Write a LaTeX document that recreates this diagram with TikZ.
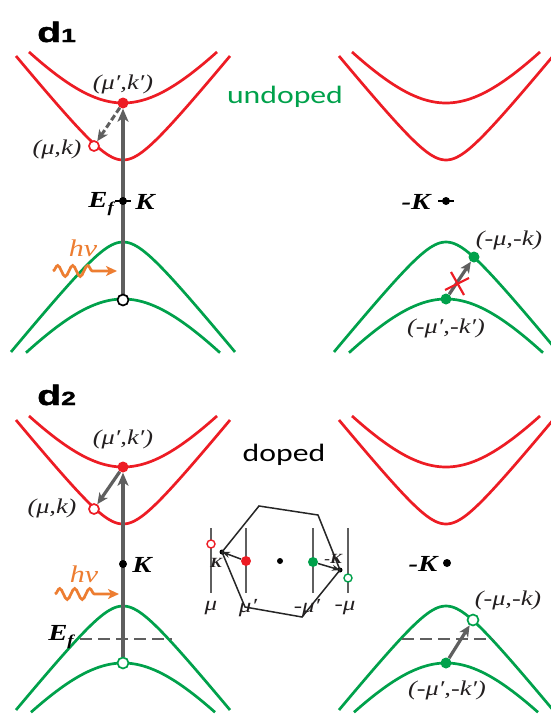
\documentclass[tikz,border=0pt]{standalone}
\usepackage{fontspec}
\setmainfont{Liberation Serif}[FakeStretch=1.25]
\newfontfamily\sansf{Liberation Sans}[FakeStretch=1.4,FakeBold=1.5]
\newfontfamily\calf{Carlito}[FakeStretch=1.27]
\usetikzlibrary{arrows.meta,decorations.pathmorphing}
\definecolor{bred}{RGB}{237,28,36}
\definecolor{bgreen}{RGB}{0,161,75}
\definecolor{bgray}{RGB}{95,95,95}
\definecolor{borange}{RGB}{237,125,49}
\definecolor{txt}{RGB}{35,31,32}
\pgfdeclarelayer{bglayer}
\pgfdeclarelayer{bandlayer}
\pgfdeclarelayer{arrowlayer}
\pgfsetlayers{bglayer,bandlayer,arrowlayer,main}
\newcommand\drawbands[4]{%
  \draw[redband] plot[domain=-94:94,samples=61,smooth] ({#1+\x},{#2-pb(\x)});
  \draw[redband] plot[domain=-107:107,samples=81,smooth] ({#1+\x},{#2-vb(\x)});
  \draw[greenband] plot[domain=-#3:#3,samples=81,smooth] ({#1+\x},{#2+vb(\x)});
  \draw[greenband] plot[domain=-#4:#4,samples=61,smooth] ({#1+\x},{#2+pb(\x)});
}
\begin{document}
\begin{tikzpicture}[x=1pt,y=-1pt,
  declare function={pb(\t)=98+11.75*(sqrt(64+(\t/10)^2)-8); vb(\t)=41+12.25*(sqrt(6.25+(\t/10)^2)-2.5);},
  redband/.style={draw=bred,line width=2.7pt},
  greenband/.style={draw=bgreen,line width=2.7pt},
  rdot/.style={circle,fill=bred,inner sep=0pt,minimum size=11pt},
  gdot/.style={circle,fill=bgreen,inner sep=0pt,minimum size=11pt},
  ocred/.style={circle,draw=bred,fill=white,line width=1.7pt,inner sep=0pt,minimum size=10pt},
  ocgrn/.style={circle,draw=bgreen,fill=white,line width=1.7pt,inner sep=0pt,minimum size=11pt},
  ocblk/.style={circle,draw=black,fill=white,line width=1.7pt,inner sep=0pt,minimum size=11pt},
  kdot/.style={circle,fill=black,inner sep=0pt,minimum size=8pt},
  tick/.style={draw=black,line width=1.6pt},
  garrow/.style={draw=bgray,line width=3.2pt,-{Stealth[length=13pt,width=11pt,inset=3.5pt]}},
  dashline/.style={draw=bgray,line width=2.8pt,dash pattern=on 12pt off 6pt},
  redx/.style={draw=bred,line width=2.2pt},
  lab/.style={font=\fontsize{21}{24}\selectfont\itshape,text=txt,inner sep=0pt},
  blab/.style={font=\fontsize{23}{26}\selectfont\bfseries\itshape,text=black,inner sep=0pt},
  hvlab/.style={font=\fontsize{24}{26}\selectfont\itshape,text=borange,inner sep=0pt},
  wave/.style={draw=borange,line width=2.7pt,decorate,
    decoration={snake,amplitude=5.5pt,segment length=15pt,post length=24pt},
    -{Stealth[length=11pt,width=10pt,inset=3pt]}},
  panel/.style={font=\sansf\bfseries\fontsize{28}{30}\selectfont,inner sep=0pt,anchor=base west},
  note/.style={font=\calf\fontsize{25}{28}\selectfont,inner sep=0pt},
  hexline/.style={draw=black!85,line width=1.5pt},
  vline/.style={draw=bgray,line width=2.2pt},
  iarrow/.style={draw=black!85,line width=1.5pt,-{Stealth[length=8pt,width=6pt]}},
  ilab/.style={font=\fontsize{20}{22}\selectfont\itshape,text=txt,inner sep=0pt},
  iklab/.style={font=\fontsize{14}{15}\selectfont\bfseries\itshape,text=txt,inner sep=0pt},
  sdot/.style={circle,fill=black,inner sep=0pt,minimum size=5pt}
]
\useasboundingbox (0,0) rectangle (550,715);
\begin{pgfonlayer}{bglayer}
\fill[white] (0,0) rectangle (550,715);
\end{pgfonlayer}

\begin{pgfonlayer}{bandlayer}
\drawbands{123}{201}{112}{97}
\drawbands{446}{201}{112}{97}
\drawbands{123}{565}{107}{92}
\drawbands{446}{565}{107}{92}
\end{pgfonlayer}

% ---------------- d1 ----------------
\node[panel] (d1) at (37,42) {d\fontsize{19}{20}\selectfont 1};
\node[note,text=bgreen] (und) at (285,97) {undoped};
\node[rdot] (rd1) at (123,103) {};
\node[ocred] (or1) at (94,146) {};
\node[ocblk] (ob1) at (123,300) {};
\node[kdot] (kd1) at (123,201) {};
\node[lab] (l1a) at (123,84) {(μ′,k′)};
\node[lab] (l1b) at (57,149) {(μ,k)};
\node[blab,anchor=east] (ef1) at (114,204) {E\raisebox{-0.25em}{\fontsize{15}{15}\selectfont f}};
\node[blab] (kl1) at (145,202) {K};
\node[hvlab] (hv1) at (83,248) {hν};
\coordinate (ws1) at (53,271);
\coordinate (we1) at (117,271);
\begin{pgfonlayer}{arrowlayer}
\draw[garrow] (ob1) -- (rd1);
\draw[garrow,line width=3pt,dash pattern=on 6pt off 3pt,-{Stealth[length=11pt,width=10pt,inset=3pt]}] (rd1) -- (or1);
\draw[tick] ([xshift=-8pt]kd1.center) -- ([xshift=8pt]kd1.center);
\draw[wave] (ws1) -- (we1);
\end{pgfonlayer}

% top right
\node[kdot] (kd2) at (446,201) {};
\node[blab] (mk2) at (416,202) {-K};
\node[gdot] (gu2) at (474,257) {};
\node[gdot] (gl2) at (446,299) {};
\node[lab] (l2a) at (509,240) {(-μ,-k)};
\node[lab] (l2b) at (446,328) {(-μ′,-k′)};
\coordinate (x2) at (457,284);
\begin{pgfonlayer}{arrowlayer}
\draw[tick] ([xshift=-8pt]kd2.center) -- ([xshift=8pt]kd2.center);
\draw[garrow,-{Stealth[length=11pt,width=10pt,inset=3pt]}] (gl2) -- (gu2);
\end{pgfonlayer}
\draw[redx] ([shift={(-6,-12)}]x2) -- ([shift={(7,11)}]x2);
\draw[redx] ([shift={(-12,6)}]x2) -- ([shift={(12,-6)}]x2);

% ---------------- d2 ----------------
\node[panel] (d2) at (37,405) {d\fontsize{19}{20}\selectfont 2};
\node[note,text=black] (dop) at (284,455) {doped};
\node[rdot] (rd3) at (123,467) {};
\node[ocred] (or3) at (94,509) {};
\node[ocgrn] (og3) at (123,663) {};
\node[kdot] (kd3) at (123,564) {};
\node[lab] (l3a) at (123,439) {(μ′,k′)};
\node[lab] (l3b) at (52,508) {(μ,k)};
\node[blab] (kl3) at (142,565) {K};
\node[hvlab] (hv3) at (84,574) {hν};
\node[blab] (ef3) at (61,637) {E\raisebox{-0.25em}{\fontsize{15}{15}\selectfont f}};
\coordinate (ws3) at (55,594);
\coordinate (we3) at (119,594);
\coordinate (ef3a) at (80,639);
\coordinate (ef3b) at (172,639);
\begin{pgfonlayer}{arrowlayer}
\draw[dashline] (ef3a) -- (ef3b);
\draw[garrow] (og3) -- (rd3);
\draw[garrow,-{Stealth[length=11pt,width=10pt,inset=3pt]}] (rd3) -- (or3);
\draw[wave] (ws3) -- (we3);
\end{pgfonlayer}

% bottom right
\node[kdot] (kd4) at (447,563) {};
\node[blab] (mk4) at (423,564) {-K};
\node[ocgrn] (og4) at (473,620) {};
\node[gdot] (gd4) at (446,663) {};
\node[lab] (l4a) at (508,600) {(-μ,-k)};
\node[lab] (l4b) at (447,690) {(-μ′,-k′)};
\coordinate (ef4a) at (402,639);
\coordinate (ef4b) at (493,639);
\begin{pgfonlayer}{arrowlayer}
\draw[dashline] (ef4a) -- (ef4b);
\draw[garrow,-{Stealth[length=11pt,width=10pt,inset=3pt]}] (gd4) -- (og4);
\end{pgfonlayer}

% ---------------- inset ----------------
\coordinate (va1) at (211,528); \coordinate (vb1) at (211,593);
\coordinate (va2) at (246,528); \coordinate (vb2) at (246,593);
\coordinate (va3) at (313,528); \coordinate (vb3) at (313,593);
\coordinate (va4) at (348,528); \coordinate (vb4) at (348,593);
\coordinate (h1) at (259,506);
\coordinate (h2) at (318,515);
\coordinate (h4) at (302,617);
\coordinate (h5) at (245,607);
\begin{pgfonlayer}{arrowlayer}
\draw[vline] (va1) -- (vb1);
\draw[vline] (va2) -- (vb2);
\draw[vline] (va3) -- (vb3);
\draw[vline] (va4) -- (vb4);
\end{pgfonlayer}
\node[sdot] (ik) at (222,552) {};
\node[sdot] (imk) at (340,570) {};
\node[ocred,minimum size=8pt,line width=1.4pt] (ior) at (211,544) {};
\node[rdot,minimum size=10pt] (ird) at (246,561) {};
\node[circle,fill=black,inner sep=0pt,minimum size=6pt] (ic) at (280,561) {};
\node[gdot,minimum size=10pt] (igd) at (313,562) {};
\node[ocgrn,minimum size=8pt,line width=1.4pt] (iog) at (348,578) {};
\draw[hexline] (ik.center) -- (h1) -- (h2) -- (imk.center) -- (h4) -- (h5) -- cycle;
\draw[iarrow] (ird) -- (ik.center);
\draw[iarrow] (igd) -- (imk.center);
\node[iklab] (ikl) at (216,563) {K};
\node[iklab] (imkl) at (333,559) {-K};
\node[ilab] (m1) at (211,608) {μ};
\node[ilab] (m2) at (248,608) {μ′};
\node[ilab] (m3) at (307,608) {-μ′};
\node[ilab] (m4) at (345,608) {-μ};
\end{tikzpicture}
\end{document}
